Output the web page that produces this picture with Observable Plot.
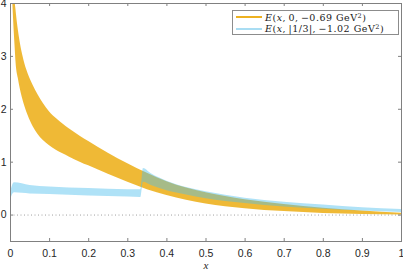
<!DOCTYPE html>
<html><head><meta charset="utf-8">
<script src="https://cdn.jsdelivr.net/npm/d3@7"></script>
<script src="https://cdn.jsdelivr.net/npm/@observablehq/plot@0.6"></script>
<style>
body{margin:0;background:#fff;}
#wrap{position:relative;width:403px;height:271px;}
#legend{position:absolute;left:232px;top:10px;width:167px;height:25px;border:1px solid #8c8c8c;background:#fff;box-sizing:border-box;font-family:"DejaVu Serif","Liberation Serif",serif;font-size:9.5px;letter-spacing:0.5px;color:#1a1a1a;}
.row{position:absolute;left:0;height:11.5px;display:flex;align-items:center;white-space:nowrap;line-height:11px;}
.sw{width:26px;height:2px;margin-left:3px;margin-right:3px;}
sup{font-size:6.5px;line-height:0;vertical-align:3.5px;}
</style></head><body><div id="wrap"></div>
<script>
// orange band: E(x,0,-0.69 GeV^2)
const orangeX  = [0.006,0.01,0.012,0.014,0.02,0.024,0.031,0.037,0.045,0.058,0.07,0.084,0.1,0.118,0.15,0.178,0.2,0.25,0.3,0.35,0.4,0.45,0.5,0.6,0.7,0.8,0.9,1.0];
const orangeHi = [6.0,4.6,4.05,3.88,3.5,3.3,3.03,2.85,2.67,2.45,2.28,2.11,1.95,1.82,1.63,1.49,1.39,1.17,0.97,0.79,0.63,0.51,0.42,0.29,0.2,0.13,0.075,0.035];
const orangeLo = [4.0,3.4,3.15,2.9,2.58,2.42,2.2,2.05,1.88,1.67,1.53,1.41,1.31,1.22,1.1,1.0,0.93,0.77,0.62,0.48,0.37,0.28,0.21,0.12,0.065,0.03,0.012,0.003];
// blue band: E(x,|1/3|,-1.02 GeV^2)
const blueX  = [0,0.01,0.05,0.1,0.2,0.3,0.333,0.34,0.36,0.4,0.45,0.5,0.6,0.7,0.8,0.9,1.0];
const blueHi = [0.42,0.61,0.56,0.53,0.5,0.48,0.48,0.88,0.78,0.64,0.52,0.44,0.32,0.24,0.19,0.14,0.107];
const blueLo = [0.28,0.42,0.40,0.39,0.36,0.34,0.33,0.62,0.56,0.46,0.38,0.31,0.22,0.15,0.11,0.075,0.05];

const xTicks = [0,0.1,0.2,0.3,0.4,0.5,0.6,0.7,0.8,0.9,1];
const xTickLabels = ["0","0.1","0.2","0.3","0.4","0.5","0.6","0.7","0.8","0.9","1"];
const yTicks = [0,1,2,3,4];
const yTickLabels = ["0","1","2","3","4"];

const legendLabels = [
  '<i>E</i>(<i>x</i>,&#8201;0,&#8201;&minus;0.69 GeV<sup>2</sup>)',
  '<i>E</i>(<i>x</i>,&#8201;|1/3|,&#8201;&minus;1.02 GeV<sup>2</sup>)'
];
const legendColors = ["#EDB120", "#A9DDF3"];

const orange = orangeX.map((x,i)=>({x, lo: orangeLo[i], hi: orangeHi[i]}));
const blue = blueX.map((x,i)=>({x, lo: blueLo[i], hi: blueHi[i]}));

const W = 403, H = 271, mL = 10, mR = 2, mT = 3, mB = 30;
const innerW = W - mL - mR, innerH = H - mT - mB;
const axisColor = "#808080";
const font = "'Liberation Sans', Arial, sans-serif";

const chart = Plot.plot({
  width: W, height: H,
  marginLeft: mL, marginRight: mR, marginTop: mT, marginBottom: mB,
  style: {fontFamily: font, background: "#fff"},
  x: {domain: [0,1]},
  y: {domain: [-0.5,4]},
  marks: [
    Plot.ruleY([0], {stroke: "#a0a0a0", strokeWidth: 1, strokeDasharray: "1,2.5"}),
    Plot.areaY(orange, {x: "x", y1: "lo", y2: "hi", fill: "#EDB120", fillOpacity: 0.9, curve: "monotone-x", clip: true}),
    Plot.areaY(blue, {x: "x", y1: "lo", y2: "hi", fill: "#4DBEEE", fillOpacity: 0.45, curve: "monotone-x", clip: true}),
    Plot.tickX(xTicks, {x: d => d, insetTop: innerH - 3, stroke: axisColor}),
    Plot.tickX(xTicks, {x: d => d, insetBottom: innerH - 3, stroke: axisColor}),
    Plot.tickY(yTicks, {y: d => d, insetRight: innerW - 3, stroke: axisColor}),
    Plot.tickY(yTicks, {y: d => d, insetLeft: innerW - 3, stroke: axisColor}),
    Plot.frame({stroke: axisColor}),
    Plot.axisX({ticks: xTicks, tickSize: 0, tickPadding: 8, tickFormat: (d,i) => xTickLabels[i], fontSize: 10.5, fill: "#262626", label: null}),
    Plot.axisX({ticks: [], tickSize: 0, label: "x", labelAnchor: "center", labelArrow: "none", labelOffset: 27, fontFamily: "'Liberation Serif', serif", fontStyle: "italic", fontSize: 11, fill: "#262626"}),
    Plot.axisY({ticks: yTicks, tickSize: 0, tickPadding: 4, tickFormat: (d,i) => yTickLabels[i], fontSize: 10.5, fill: "#262626", label: null})
  ]
});

const wrap = document.getElementById("wrap");
wrap.appendChild(chart);
const leg = document.createElement("div");
leg.id = "legend";
legendLabels.forEach((lab, i) => {
  const row = document.createElement("div");
  row.className = "row";
  row.style.top = (0.5 + i * 11.5) + "px";
  const sw = document.createElement("span");
  sw.className = "sw";
  sw.style.background = legendColors[i];
  const t = document.createElement("span");
  t.innerHTML = lab;
  row.appendChild(sw); row.appendChild(t);
  leg.appendChild(row);
});
wrap.appendChild(leg);
</script></body></html>
